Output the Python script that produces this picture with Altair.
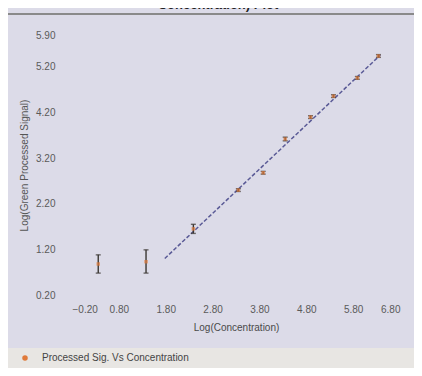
import altair as alt
import pandas as pd

# Data
conc_log = [0.36, 1.38, 2.39, 3.35, 3.88, 4.35, 4.89, 5.38, 5.89, 6.34]
signal_log = [0.88, 0.93, 1.65, 2.50, 2.88, 3.62, 4.10, 4.56, 4.96, 5.44]
signal_lo = [0.68, 0.68, 1.55, 2.47, 2.85, 3.58, 4.07, 4.53, 4.93, 5.41]
signal_hi = [1.08, 1.19, 1.75, 2.53, 2.91, 3.66, 4.13, 4.59, 4.99, 5.47]
fit_x = [1.78, 6.38]
fit_y = [1.00, 5.46]
x_ticks = [-0.2, 0.8, 1.8, 2.8, 3.8, 4.8, 5.8, 6.8]
y_ticks = [0.2, 1.2, 2.2, 3.2, 4.2, 5.2, 5.9]
series_name = "Processed Sig. Vs Concentration"
title_text = "Concentration) Plot"

df = pd.DataFrame({"x": conc_log, "y": signal_log, "lo": signal_lo, "hi": signal_hi,
                   "series": [series_name] * len(conc_log)})
fit = pd.DataFrame({"x": fit_x, "y": fit_y})

FONT = "Liberation Sans"
LAB = "#5a5a5a"

xscale = alt.Scale(domain=[-0.2, 6.8], nice=False, zero=False)
yscale = alt.Scale(domain=[0.2, 5.9], nice=False, zero=False)

xaxis = alt.Axis(values=x_ticks, format=".2f", grid=False, domain=False, ticks=False,
                 labelPadding=9, labelFont=FONT, labelFontSize=10, labelColor=LAB,
                 title="Log(Concentration)", titleFont=FONT, titleFontSize=10,
                 titleFontWeight="normal", titleColor="#4a4a4a", titlePadding=8)
yaxis = alt.Axis(values=y_ticks, format=".2f", grid=False, domain=False, ticks=False,
                 labelPadding=17, labelFont=FONT, labelFontSize=10, labelColor=LAB,
                 title="Log(Green Processed Signal)", titleFont=FONT, titleFontSize=10,
                 titleFontWeight="normal", titleColor="#555555", titlePadding=6)

# legend band background
band = alt.Chart(pd.DataFrame({"a": [0]})).mark_rect(color="#e8e6e3").encode(
    x=alt.value(-64), x2=alt.value(342), y=alt.value(313), y2=alt.value(340))
topline = alt.Chart(pd.DataFrame({"a": [0]})).mark_rule(color="#8a8a8a", strokeWidth=2).encode(
    x=alt.value(-64), x2=alt.value(342), y=alt.value(-21))
title = alt.Chart(pd.DataFrame({"t": [title_text]})).mark_text(
    font=FONT, fontSize=13, fontWeight="bold", color="#222", baseline="bottom", align="center"
).encode(text="t:N", x=alt.value(146), y=alt.value(-23))

line = alt.Chart(fit).mark_line(color="#5a5a96", strokeWidth=1.5, strokeDash=[4, 2]).encode(
    x=alt.X("x:Q", scale=xscale, axis=xaxis),
    y=alt.Y("y:Q", scale=yscale, axis=yaxis))

bars = alt.Chart(df).mark_rule(color="#3a3632", strokeWidth=1.4).encode(
    x=alt.X("x:Q", scale=xscale), y=alt.Y("lo:Q", scale=yscale), y2="hi:Q")
cap_lo = alt.Chart(df).mark_tick(color="#3a3632", orient="horizontal", size=5, thickness=1.4).encode(
    x=alt.X("x:Q", scale=xscale), y=alt.Y("lo:Q", scale=yscale))
cap_hi = alt.Chart(df).mark_tick(color="#3a3632", orient="horizontal", size=5, thickness=1.4).encode(
    x=alt.X("x:Q", scale=xscale), y=alt.Y("hi:Q", scale=yscale))
pts = alt.Chart(df).mark_point(shape="square", filled=True, size=12, opacity=0.7).encode(
    x=alt.X("x:Q", scale=xscale), y=alt.Y("y:Q", scale=yscale),
    color=alt.Color("series:N", scale=alt.Scale(range=["#e07a3a"]),
                    legend=alt.Legend(title=None, orient="none", legendX=-52, legendY=318,
                                      symbolType="circle", symbolSize=30, symbolStrokeWidth=0,
                                      symbolOpacity=1,
                                      labelFont=FONT, labelFontSize=10, labelColor="#444",
                                      labelOffset=12)))

chart = alt.layer(band, topline, title, line, bars, cap_lo, cap_hi, pts).properties(
    width=328, height=260,
    autosize=alt.AutoSizeParams(type="none"),
    padding={"left": 64, "top": 27, "right": 14, "bottom": 73},
    background="#dcdbe8",
).configure_view(stroke=None)

chart.save("out.html", embed_options={"renderer": "svg", "actions": False})
